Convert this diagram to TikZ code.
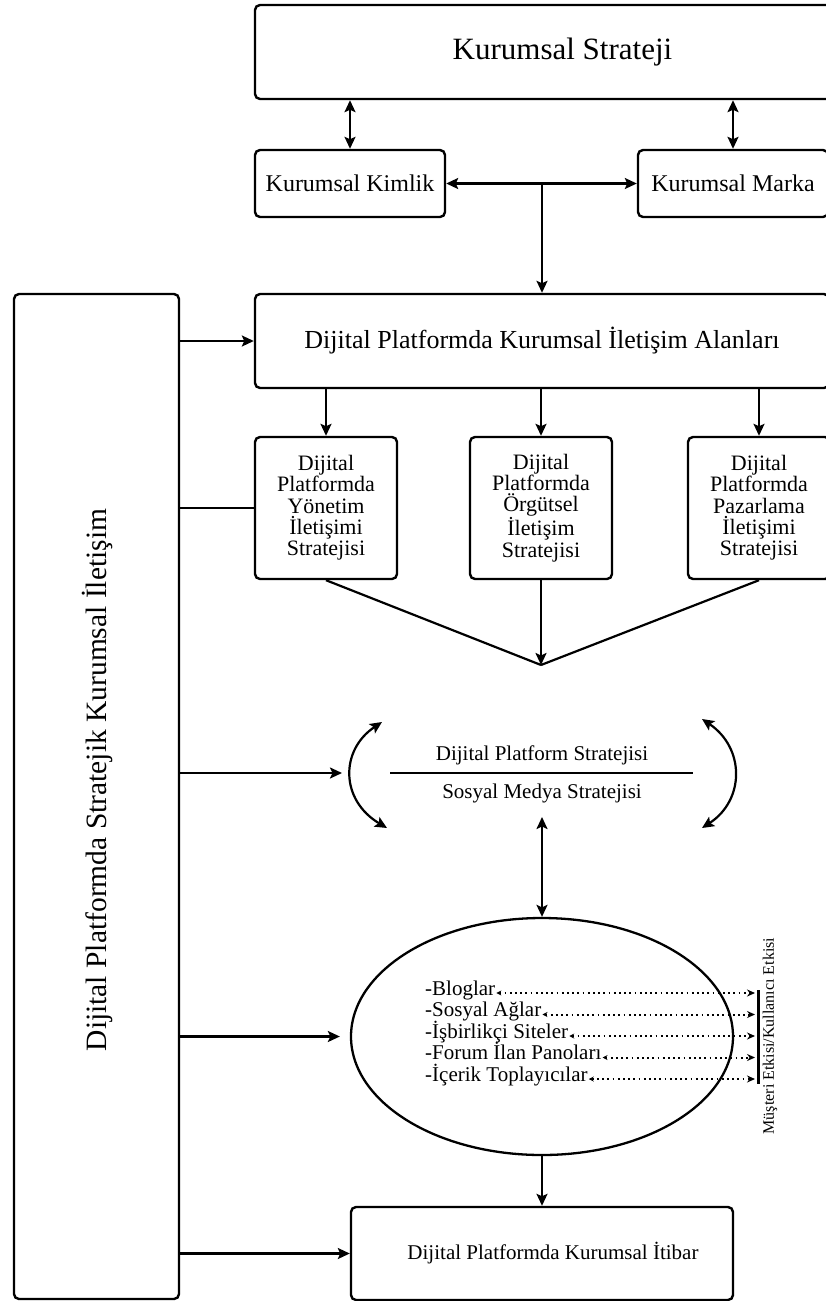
\documentclass[tikz,border=0pt]{standalone}
\usepackage{fontspec}
\setmainfont{Liberation Serif}
\usetikzlibrary{shapes.geometric,arrows.meta}
\newcommand{\fsz}[1]{\fontsize{#1}{#1}\selectfont}

\begin{document}
\begin{tikzpicture}[x=1pt,y=-1pt,
  box/.style={draw,line width=2.4pt,rounded corners=5pt,inner sep=0pt,align=center},
  conn/.style={line width=2.2pt},
  arr/.style={conn,-{Stealth[length=12pt,width=11pt,inset=2.5pt]}},
  darr/.style={conn,{Stealth[length=12pt,width=11pt,inset=2.5pt]}-{Stealth[length=12pt,width=11pt,inset=2.5pt]}},
  dotarr/.style={line width=2pt,dash pattern=on 1.8pt off 3.4pt,
    {Stealth[length=5pt,width=5pt]}-{Stealth[length=8pt,width=7pt]}},
  stratbox/.style={box,minimum width=142pt,minimum height=142pt,font=\fontsize{22}{21.3}\selectfont},
  item/.style={anchor=base west,inner sep=0pt,font=\fsz{21}}
]
\clip (0,0) rectangle (826,1301);

% --- top level
\node[box,minimum width=615pt,minimum height=94pt,font=\fsz{31}] (strat) at (562.5,52) {Kurumsal Strateji};
\node[box,minimum width=190pt,minimum height=67pt,font=\fsz{24}] (kim) at (350,183.5) {Kurumsal Kimlik};
\node[box,minimum width=190pt,minimum height=67pt,font=\fsz{24}] (mar) at (733,183.5) {Kurumsal Marka};
\coordinate (hub) at (542,183.5);

\draw[darr] (kim.north |- strat.south) -- (kim.north);
\draw[darr] (mar.north |- strat.south) -- (mar.north);
\draw[darr] (kim.east) -- (mar.west);

\node[box,minimum width=574pt,minimum height=94pt,font=\fsz{26}] (alan) at (542,341) {Dijital Platformda Kurumsal İletişim Alanları};
\draw[arr] (hub) -- (hub |- alan.north);

% --- left frame
\node[box,minimum width=165pt,minimum height=1005pt] (lb) at (96.5,796.5) {};
\node[rotate=90,font=\fsz{29.5}] (lbl) at (97,780) {Dijital Platformda Stratejik Kurumsal İletişim};

% --- three strategy boxes
\node[stratbox] (yon) at (326,508) {Dijital\\Platformda\\Yönetim\\İletişimi\\Stratejisi};
\node[stratbox] (org) at (541,508) {Dijital\\Platformda\\Örgütsel\\İletişim\\Stratejisi};
\node[stratbox] (paz) at (759,508) {Dijital\\Platformda\\Pazarlama\\İletişimi\\Stratejisi};

\draw[arr] (yon.north |- alan.south) -- (yon.north);
\draw[arr] (org.north |- alan.south) -- (org.north);
\draw[arr] (paz.north |- alan.south) -- (paz.north);

\coordinate (merge) at (541,665);
\draw[conn] (yon.south) -- (merge);
\draw[conn] (paz.south) -- (merge);
\draw[arr] (org.south) -- (merge);

% --- platform / social media strategy
\node[font=\fsz{21}] (dps) at (542,755) {Dijital Platform Stratejisi};
\draw[line width=2.4pt] (390,773) -- (693,773);
\node[font=\fsz{21}] (sms) at (542,793) {Sosyal Medya Stratejisi};

\coordinate (cl1) at (382,722);
\coordinate (cl2) at (387,828);
\coordinate (cr1) at (702,719);
\coordinate (cr2) at (702,828);
\draw[darr] (cl1) .. controls (340,750) and (340,800) .. (cl2);
\draw[darr] (cr1) .. controls (745,748) and (745,800) .. (cr2);

% --- channels
\node[draw,ellipse,line width=2.3pt,minimum width=382pt,minimum height=237pt,inner sep=0pt] (ell) at (542,1036.5) {};
\coordinate (smsb) at (542,817);
\draw[darr] (smsb) -- (ell.north);

\node[item] (i1) at (425,995) {-Bloglar};
\node[item] (i2) at (425,1016.5) {-Sosyal Ağlar};
\node[item] (i3) at (425,1038) {-İşbirlikçi Siteler};
\node[item] (i4) at (425,1059.5) {-Forum İlan Panoları};
\node[item] (i5) at (425,1081) {-İçerik Toplayıcılar};

\coordinate (rx) at (755,0);
\foreach \i in {1,...,5}{
  \coordinate (s\i) at ([xshift=1pt,yshift=2pt]i\i.base east);
  \draw[dotarr] (s\i) -- (s\i -| rx);
}
\draw[line width=3pt] (758,990) -- (758,1084);
\node[rotate=90,font=\fsz{16}] (eff) at (770,1036) {Müşteri Etkisi/Kullanıcı Etkisi};

% --- reputation
\node[box,minimum width=382pt,minimum height=93pt] (itb) at (542,1253.5) {};
\node[font=\fsz{21}] (itbl) at (553,1253) {Dijital Platformda Kurumsal İtibar};
\draw[arr] (ell.south) -- (itb.north);

% --- links from the left frame
\coordinate (ml) at (342,773);
\draw[arr] (lb.east |- alan.west) -- (alan.west);
\draw[conn] (lb.east |- yon.west) -- (yon.west);
\draw[arr] (lb.east |- ml) -- (ml);
\draw[arr] (lb.east |- ell.west) -- ([xshift=-10pt]ell.west);
\draw[arr] (lb.east |- itb.west) -- (itb.west);
\end{tikzpicture}
\end{document}
